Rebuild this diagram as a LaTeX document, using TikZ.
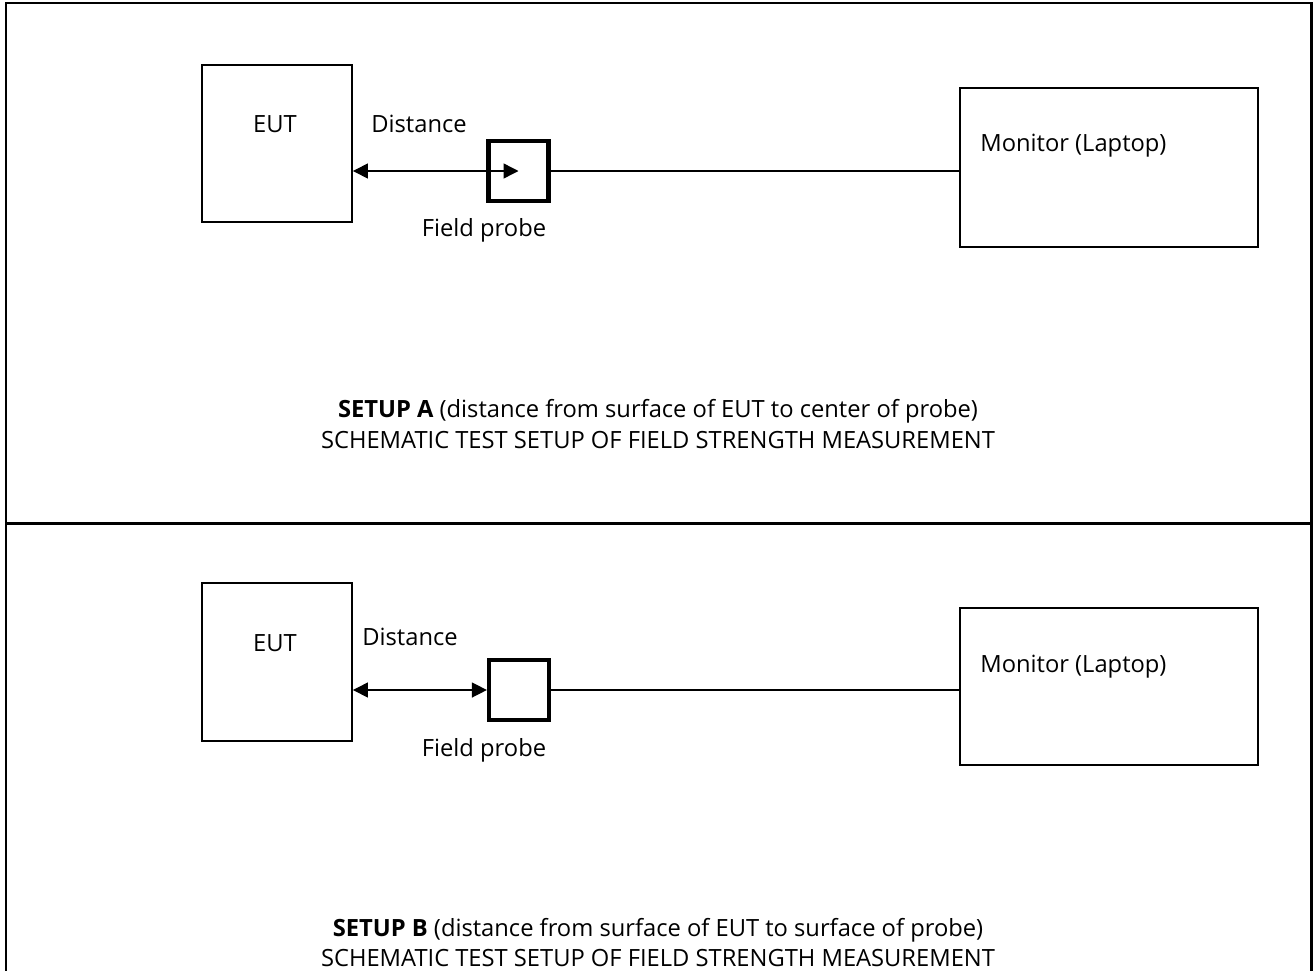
\documentclass[tikz,border=0pt]{standalone}
\usepackage{fontspec}
\setmainfont{Open Sans}
\usetikzlibrary{arrows.meta}

\tikzset{
  unitbox/.style={draw, line width=1.1pt, inner sep=0pt},
  probebox/.style={draw, line width=2.4pt, inner sep=0pt, minimum width=1.2cm, minimum height=1.2cm},
  txt/.style={inner sep=0pt, font=\fontsize{13.5}{16}\selectfont},
  wire/.style={line width=0.8pt},
  dist/.style={line width=0.8pt, {Triangle[length=8.5pt,width=8.5pt]}-{Triangle[length=8.5pt,width=8.5pt]}},
}

\begin{document}
\begin{tikzpicture}[x=0.02cm, y=-0.02cm]
 \useasboundingbox (0,0) rectangle (1314,970);

 % frame
 \draw[line width=1.7pt] (6,972) -- (6,3) -- (1311,3) -- (1311,972);
 \draw[line width=1.7pt] (6,523) -- (1311,523);

 % Setup A
 \node[unitbox, minimum width=3cm, minimum height=3.14cm] (eutA) at (277,143.5) {};
 \node[txt] (eutAt) at (275,124) {EUT};
 \node[unitbox, minimum width=5.96cm, minimum height=3.18cm] (monA) at (1109,167.5) {};
 \node[txt, anchor=west] (monAt) at (980,146) {Monitor (Laptop)};
 \node[probebox] (probeA) at (518.5,171) {};
 \node[txt, anchor=west] (distAt) at (371,124) {Distance};
 \node[txt] (fieldAt) at (484,230) {Field probe};
 \draw[dist] (eutA.east |- probeA) -- (probeA.center);
 \draw[wire] (probeA.east) -- (monA.west |- probeA);
 \node[txt] (capA1) at (658,411) {\textbf{SETUP A} (distance from surface of EUT to center of probe)};
 \node[txt] (capA2) at (658,440) {SCHEMATIC TEST SETUP OF FIELD STRENGTH MEASUREMENT};

 % Setup B
 \node[unitbox, minimum width=3cm, minimum height=3.16cm] (eutB) at (277,662) {};
 \node[txt] (eutBt) at (275,643) {EUT};
 \node[unitbox, minimum width=5.96cm, minimum height=3.14cm] (monB) at (1109,686.5) {};
 \node[txt, anchor=west] (monBt) at (980,667) {Monitor (Laptop)};
 \node[probebox] (probeB) at (519,690) {};
 \node[txt, anchor=west] (distBt) at (362,637) {Distance};
 \node[txt] (fieldBt) at (484,750) {Field probe};
 \draw[dist] (eutB.east |- probeB) -- (probeB.west);
 \draw[wire] (probeB.east) -- (monB.west |- probeB);
 \node[txt] (capB1) at (658,930) {\textbf{SETUP B} (distance from surface of EUT to surface of probe)};
 \node[txt] (capB2) at (658,958) {SCHEMATIC TEST SETUP OF FIELD STRENGTH MEASUREMENT};

\end{tikzpicture}
\end{document}
